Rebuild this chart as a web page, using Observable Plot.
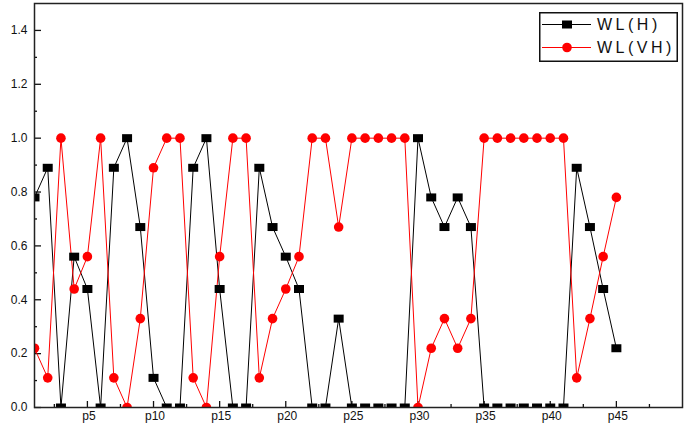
<!DOCTYPE html>
<html>
<head>
<meta charset="utf-8">
<script src="https://cdn.jsdelivr.net/npm/d3@7"></script>
<script src="https://cdn.jsdelivr.net/npm/@observablehq/plot@0.6"></script>
<style>
  html, body { margin: 0; padding: 0; background: #fff; }
  #wrap { position: relative; width: 685px; height: 432px; }
  #legend { position: absolute; left: 539px; top: 12px; }
</style>
</head>
<body>
<div id="wrap"></div>
<script>
// Data
const points = d3.range(1, 46); // p1 .. p45
const wlH  = [0.78,0.89,0,0.56,0.44,0,0.89,1,0.67,0.11,0,0,0.89,1,0.44,0,0,0.89,0.67,0.56,0.44,0,0,0.33,0,0,0,0,0,1,0.78,0.67,0.78,0.67,0,0,0,0,0,0,0,0.89,0.67,0.44,0.22];
const wlVH = [0.22,0.11,1,0.44,0.56,1,0.11,0,0.33,0.89,1,1,0.11,0,0.56,1,1,0.11,0.33,0.44,0.56,1,1,0.67,1,1,1,1,1,0,0.22,0.33,0.22,0.33,1,1,1,1,1,1,1,0.11,0.33,0.56,0.78];
const seriesNames = ["WL(H)", "WL(VH)"];
const xTickLabels = [5,10,15,20,25,30,35,40,45];
const xMinorTicks = [2.5,7.5,12.5,17.5,22.5,27.5,32.5,37.5,42.5,47.5];
const yTickLabels = [0,0.2,0.4,0.6,0.8,1.0,1.2,1.4];
const yMinorTicks = [0.1,0.3,0.5,0.7,0.9,1.1,1.3];

const rowsH  = points.map((p, i) => ({p, v: wlH[i]}));
const rowsVH = points.map((p, i) => ({p, v: wlVH[i]}));

const W = 685, H = 432, mL = 34, mR = 3, mT = 3, mB = 25;
const innerW = W - mL - mR, innerH = H - mT - mB;
const font = "'Liberation Sans', Arial, sans-serif";

const rectSymbol = { draw(ctx) { ctx.rect(-5, -4, 10, 8); } };

const chart = Plot.plot({
  width: W, height: H,
  marginLeft: mL, marginRight: mR, marginTop: mT, marginBottom: mB,
  style: { fontFamily: font, fontSize: "12px", color: "#111", background: "#fff" },
  x: { domain: [1, 50] },
  y: { domain: [0, 1.5] },
  marks: [
    Plot.axisX(xTickLabels, { tickSize: 0, tickPadding: 4, tickFormat: d => "p" + d, fontSize: 12, label: null, letterSpacing: "3px", dx: 1.5 }),
    Plot.axisY(yTickLabels, { tickSize: 0, tickPadding: 7, tickFormat: d3.format(".1f"), fontSize: 12, label: null, letterSpacing: "3.5px" }),
    Plot.tickX(xTickLabels, { x: d => d, insetTop: innerH - 6, stroke: "#111", strokeWidth: 1.3 }),
    Plot.tickX(xMinorTicks, { x: d => d, insetTop: innerH - 3, stroke: "#111", strokeWidth: 1.3 }),
    Plot.tickY(yTickLabels, { y: d => d, insetRight: innerW - 7, stroke: "#111", strokeWidth: 1.3 }),
    Plot.tickY(yMinorTicks, { y: d => d, insetRight: innerW - 3, stroke: "#111", strokeWidth: 1.3 }),
    Plot.line(rowsH, { x: "p", y: "v", stroke: "#000", strokeWidth: 1, clip: true }),
    Plot.line(rowsVH, { x: "p", y: "v", stroke: "#ff0000", strokeWidth: 1, clip: true }),
    Plot.dot(rowsH, { x: "p", y: "v", symbol: rectSymbol, r: 5, fill: "#000", stroke: "none", clip: true }),
    Plot.dot(rowsVH, { x: "p", y: "v", symbol: "circle", r: 4.8, fill: "#ff0000", stroke: "none", clip: true }),
    Plot.frame({ stroke: "#222", strokeWidth: 1.5 })
  ]
});

const wrap = document.getElementById("wrap");
wrap.appendChild(chart);

// Legend
const ns = "http://www.w3.org/2000/svg";
const leg = document.createElementNS(ns, "svg");
leg.setAttribute("id", "legend");
leg.setAttribute("width", 139);
leg.setAttribute("height", 50);
const legColors = ["#000", "#ff0000"];
let html = `<rect x="0.75" y="0.75" width="137.5" height="48.5" fill="#fff" stroke="#111" stroke-width="1.5"/>`;
seriesNames.forEach((name, i) => {
  const y = 12.5 + i * 23;
  html += `<line x1="3" x2="52" y1="${y}" y2="${y}" stroke="${legColors[i]}" stroke-width="1"/>`;
  if (i === 0) html += `<rect x="${28 - 5}" y="${y - 4}" width="10" height="8" fill="#000"/>`;
  else html += `<circle cx="28" cy="${y}" r="4.8" fill="#ff0000"/>`;
  html += `<text x="58" y="${y}" dy="0.36em" font-family="${font.replace(/'/g, "")}" font-size="16" letter-spacing="3.5" fill="#111">${name}</text>`;
});
leg.innerHTML = html;
wrap.appendChild(leg);
</script>
</body>
</html>
